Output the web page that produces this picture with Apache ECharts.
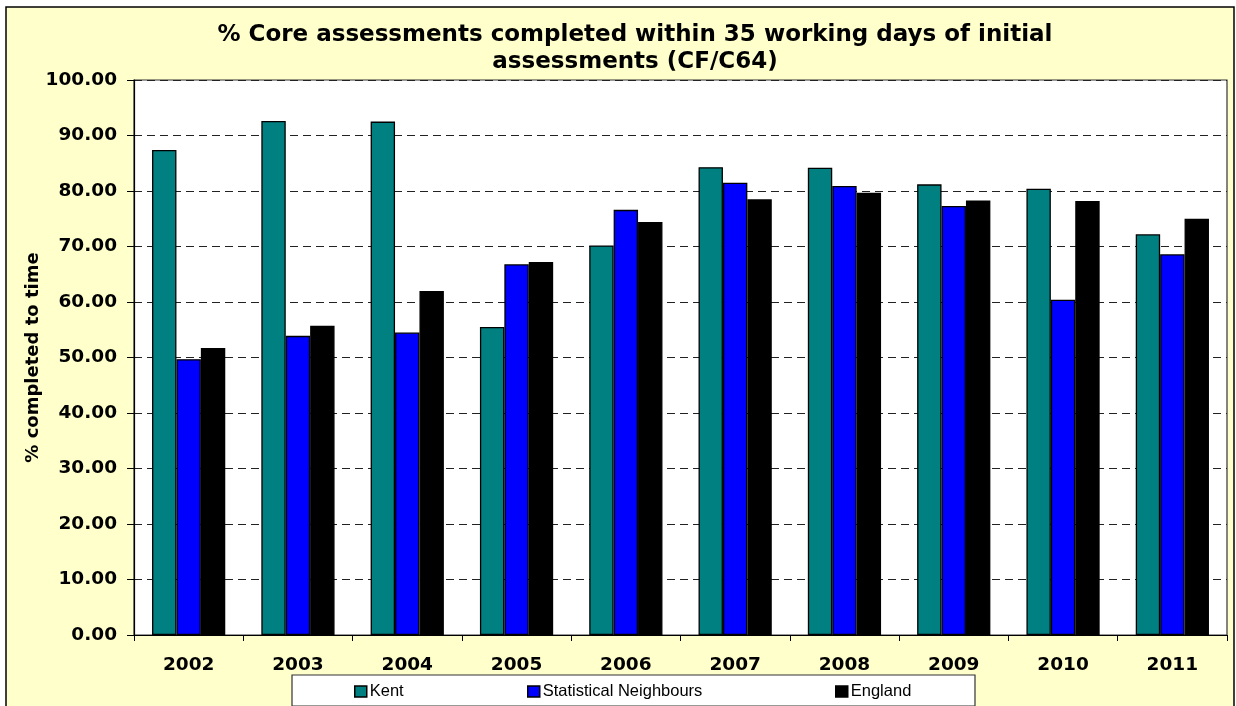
<!DOCTYPE html>
<html>
<head>
<meta charset="utf-8">
<script src="https://cdn.jsdelivr.net/npm/echarts@6/dist/echarts.min.js"></script>
<style>
html,body{margin:0;padding:0;background:#fff;}
#c{width:1236px;height:706px;}
</style>
</head>
<body>
<div id="c"></div>
<script>
const categories = ['2002','2003','2004','2005','2006','2007','2008','2009','2010','2011'];
const kent = [87.4, 92.6, 92.5, 55.5, 70.2, 84.3, 84.2, 81.2, 80.4, 72.2];
const statNeighbours = [49.7, 53.9, 54.5, 66.8, 76.6, 81.5, 80.9, 77.3, 60.4, 68.6];
const england = [51.7, 55.7, 62.0, 67.2, 74.4, 78.5, 79.7, 78.3, 78.2, 75.0];
const seriesNames = ['Kent', 'Statistical Neighbours', 'England'];
const titleText = '% Core assessments completed within 35 working days of initial\nassessments (CF/C64)';
const yAxisTitle = '% completed to time';

const chart = echarts.init(document.getElementById('c'), null, {renderer: 'canvas'});
const boldFont = 'DejaVu Sans';
const legendCommon = {
  orient: 'horizontal',
  top: 683,
  padding: 0,
  itemWidth: 12,
  itemHeight: 11,
  itemGap: 0,
  icon: 'rect',
  itemStyle: {borderColor: '#000', borderWidth: 1.5},
  textStyle: {fontFamily: 'Liberation Sans', fontSize: 16.5, color: '#000', lineHeight: 16, padding: [0,0,0,-2]},
  selectedMode: false
};
const option = {
  backgroundColor: '#fff',
  animation: false,
  graphic: [
    {type: 'rect', z: -10, shape: {x: 6, y: 7, width: 1228, height: 720}, style: {fill: '#FFFFCC', stroke: '#000', lineWidth: 1.5}},
    {type: 'rect', z: 0, shape: {x: 292, y: 675, width: 683, height: 31}, style: {fill: '#fff', stroke: '#333', lineWidth: 1.2}}
  ],
  title: {
    text: titleText,
    left: 635,
    top: 22,
    padding: 0,
    textAlign: 'center',
    textStyle: {fontFamily: boldFont, fontWeight: 'bold', fontSize: 23, lineHeight: 27, color: '#000'}
  },
  legend: [
    Object.assign({}, legendCommon, {left: 354, data: [seriesNames[0]]}),
    Object.assign({}, legendCommon, {left: 527, data: [seriesNames[1]]}),
    Object.assign({}, legendCommon, {left: 835, data: [seriesNames[2]]})
  ],
  grid: {
    left: 134, right: 9, top: 80, bottom: 71,
    show: true, backgroundColor: '#fff', borderColor: '#333', borderWidth: 1.2
  },
  xAxis: {
    type: 'category',
    data: categories,
    axisLine: {lineStyle: {color: '#000', width: 1.2}},
    axisTick: {show: true, alignWithLabel: false, length: 6, lineStyle: {color: '#000'}},
    axisLabel: {fontFamily: boldFont, fontWeight: 'bold', fontSize: 18.5, color: '#000', margin: 21},
    splitLine: {show: false}
  },
  yAxis: {
    type: 'value',
    min: 0, max: 100, interval: 10,
    name: yAxisTitle,
    nameLocation: 'middle',
    nameRotate: 90,
    nameGap: 92,
    nameMoveOverlap: false,
    nameTextStyle: {fontFamily: boldFont, fontWeight: 'bold', fontSize: 18, color: '#000'},
    axisLine: {show: true, lineStyle: {color: '#000', width: 1.2}},
    axisTick: {show: true, length: 7, lineStyle: {color: '#000'}},
    axisLabel: {fontFamily: boldFont, fontWeight: 'bold', fontSize: 18.5, color: '#000', margin: 17,
      formatter: v => v.toFixed(2)},
    splitLine: {show: true, lineStyle: {color: '#222', width: 1, type: [8, 5]}}
  },
  series: [
    {name: seriesNames[0], type: 'bar', data: kent, barGap: '0%', barCategoryGap: '33%',
      itemStyle: {color: '#008080', borderColor: '#000', borderWidth: 1.3}},
    {name: seriesNames[1], type: 'bar', data: statNeighbours,
      itemStyle: {color: '#0000FF', borderColor: '#000', borderWidth: 1.3}},
    {name: seriesNames[2], type: 'bar', data: england,
      itemStyle: {color: '#000000', borderColor: '#000', borderWidth: 1.3}}
  ]
};
chart.setOption(option);
</script>
</body>
</html>
